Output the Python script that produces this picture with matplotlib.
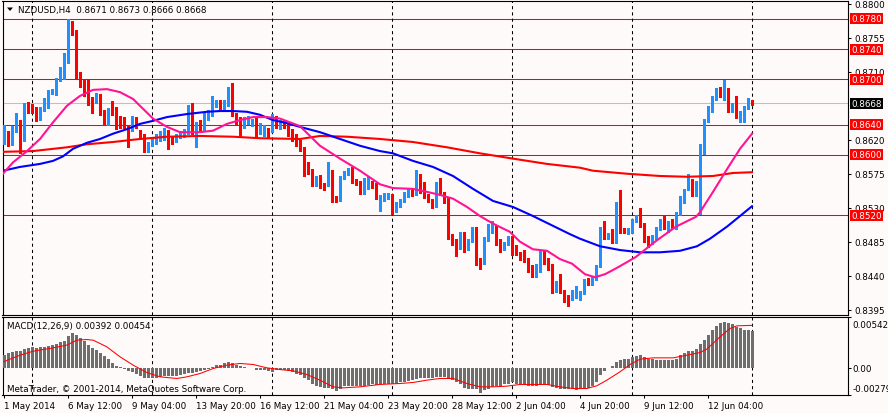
import matplotlib
matplotlib.use("Agg")
import matplotlib.pyplot as plt
import matplotlib.transforms as mtransforms
from matplotlib.patches import Polygon
import numpy as np

# ---------------- data ----------------
symbol = "NZDUSD"
timeframe = "H4"

opens = [
    .8620, .8629, .8615, .8633, .8643, .8620, .8668, .8664, .8661, .8648,
    .8660, .8664, .8682, .8681, .8699, .8702, .8724, .8768, .8763, .8708,
    .8697, .8684, .8674, .8673, .8673, .8658, .8643, .8660, .8660, .8647,
    .8646, .8638, .8634, .8648, .8631, .8626, .8609, .8616, .8618, .8621,
    .8624, .8630, .8623, .8619, .8625, .8626, .8630, .8661, .8632, .8643,
    .8634, .8648, .8654, .8666, .8670, .8663, .8667, .8676, .8654, .8648,
    .8637, .8644, .8641, .8648, .8634, .8632, .8634, .8632, .8650, .8636,
    .8642, .8639, .8630, .8625, .8617, .8608, .8585, .8579, .8561, .8571,
    .8561, .8561, .8577, .8544, .8541, .8570, .8575, .8581, .8566, .8564,
    .8550, .8557, .8564, .8561, .8542, .8541, .8545, .8546, .8526, .8533,
    .8540, .8546, .8553, .8549, .8573, .8557, .8546, .8540, .8533, .8562,
    .8549, .8542, .8493, .8487, .8478, .8496, .8476, .8486, .8502, .8461,
    .8458, .8488, .8499, .8505, .8486, .8476, .8483, .8490, .8479, .8469,
    .8465, .8462, .8452, .8447, .8447, .8472, .8462, .8454, .8421, .8432,
    .8419, .8413, .8410, .8412, .8411, .8418, .8435, .8430, .8436, .8453,
    .8502, .8493, .8494, .8489, .8530, .8501, .8498, .8498, .8513, .8520,
    .8508, .8487, .8484, .8491, .8502, .8514, .8500, .8513, .8504, .8522,
    .8538, .8555, .8566, .8548, .8559, .8610, .8645, .8659, .8675, .8684,
    .8675, .8687, .8659, .8667, .8654, .8654, .8663, .8671,
]
highs = [
    .8640, .8632, .8638, .8655, .8646, .8669, .8670, .8667, .8663, .8663,
    .8675, .8686, .8687, .8702, .8716, .8735, .8780, .8777, .8765, .8710,
    .8699, .8700, .8676, .8682, .8680, .8660, .8662, .8671, .8663, .8652,
    .8650, .8640, .8652, .8650, .8633, .8628, .8617, .8624, .8627, .8632,
    .8636, .8633, .8625, .8628, .8632, .8634, .8666, .8668, .8643, .8646,
    .8656, .8659, .8678, .8673, .8672, .8673, .8690, .8695, .8656, .8650,
    .8650, .8651, .8648, .8650, .8642, .8640, .8636, .8654, .8652, .8646,
    .8645, .8641, .8634, .8627, .8619, .8610, .8590, .8581, .8572, .8573,
    .8563, .8591, .8580, .8546, .8572, .8579, .8583, .8584, .8568, .8566,
    .8569, .8571, .8566, .8563, .8547, .8549, .8549, .8548, .8537, .8542,
    .8551, .8555, .8555, .8580, .8575, .8564, .8548, .8542, .8564, .8569,
    .8551, .8544, .8495, .8489, .8498, .8498, .8488, .8504, .8504, .8463,
    .8491, .8509, .8513, .8507, .8488, .8485, .8492, .8492, .8481, .8471,
    .8474, .8464, .8454, .8456, .8473, .8474, .8464, .8456, .8433, .8442,
    .8421, .8415, .8421, .8427, .8420, .8436, .8437, .8439, .8454, .8504,
    .8512, .8497, .8502, .8537, .8553, .8503, .8503, .8515, .8520, .8529,
    .8510, .8492, .8494, .8505, .8515, .8521, .8513, .8515, .8524, .8545,
    .8555, .8574, .8568, .8566, .8614, .8648, .8665, .8678, .8689, .8690,
    .8699, .8689, .8669, .8678, .8658, .8665, .8675, .8673,
]
lows = [
    .8615, .8612, .8613, .8630, .8602, .8618, .8655, .8655, .8645, .8646,
    .8658, .8662, .8680, .8679, .8698, .8700, .8722, .8758, .8700, .8690,
    .8678, .8666, .8655, .8668, .8653, .8640, .8640, .8653, .8634, .8636,
    .8635, .8611, .8632, .8636, .8621, .8604, .8604, .8612, .8614, .8618,
    .8620, .8608, .8615, .8617, .8622, .8623, .8628, .8628, .8610, .8630,
    .8632, .8646, .8652, .8663, .8659, .8661, .8665, .8652, .8640, .8623,
    .8635, .8641, .8638, .8623, .8628, .8625, .8623, .8630, .8635, .8634,
    .8635, .8625, .8618, .8612, .8605, .8572, .8575, .8559, .8559, .8556,
    .8554, .8559, .8537, .8537, .8539, .8568, .8573, .8563, .8560, .8548,
    .8548, .8555, .8556, .8541, .8526, .8539, .8541, .8522, .8524, .8531,
    .8538, .8544, .8546, .8547, .8550, .8543, .8537, .8529, .8531, .8547,
    .8536, .8488, .8481, .8466, .8476, .8472, .8474, .8484, .8454, .8449,
    .8456, .8486, .8497, .8481, .8472, .8474, .8481, .8467, .8467, .8461,
    .8458, .8445, .8438, .8438, .8445, .8455, .8448, .8417, .8419, .8417,
    .8405, .8400, .8408, .8410, .8408, .8416, .8428, .8428, .8434, .8451,
    .8489, .8489, .8483, .8483, .8497, .8496, .8495, .8496, .8511, .8504,
    .8484, .8478, .8482, .8489, .8500, .8502, .8498, .8503, .8502, .8520,
    .8536, .8553, .8546, .8546, .8522, .8601, .8643, .8657, .8673, .8676,
    .8673, .8657, .8657, .8649, .8643, .8644, .8661, .8666,
]
closes = [
    .8635, .8616, .8636, .8643, .8620, .8668, .8658, .8658, .8647, .8661,
    .8664, .8683, .8685, .8700, .8713, .8726, .8768, .8761, .8706, .8695,
    .8682, .8669, .8669, .8680, .8655, .8642, .8660, .8655, .8636, .8638,
    .8638, .8622, .8650, .8639, .8624, .8609, .8613, .8621, .8623, .8627,
    .8632, .8621, .8619, .8625, .8629, .8631, .8664, .8630, .8641, .8632,
    .8654, .8656, .8667, .8670, .8661, .8670, .8678, .8654, .8648, .8636,
    .8648, .8648, .8645, .8632, .8637, .8638, .8625, .8651, .8637, .8643,
    .8637, .8627, .8625, .8614, .8607, .8583, .8577, .8561, .8570, .8560,
    .8558, .8579, .8543, .8541, .8570, .8577, .8581, .8565, .8563, .8550,
    .8564, .8569, .8558, .8543, .8545, .8546, .8546, .8524, .8535, .8540,
    .8549, .8553, .8549, .8572, .8553, .8546, .8540, .8531, .8562, .8549,
    .8542, .8491, .8486, .8483, .8496, .8478, .8486, .8502, .8461, .8457,
    .8489, .8499, .8510, .8483, .8474, .8483, .8490, .8475, .8469, .8463,
    .8460, .8450, .8447, .8449, .8471, .8459, .8450, .8419, .8431, .8419,
    .8411, .8411, .8419, .8418, .8418, .8434, .8430, .8437, .8452, .8502,
    .8491, .8494, .8489, .8534, .8499, .8498, .8500, .8513, .8518, .8506,
    .8486, .8483, .8492, .8503, .8513, .8504, .8511, .8505, .8522, .8537,
    .8553, .8566, .8548, .8559, .8611, .8645, .8659, .8675, .8684, .8678,
    .8687, .8659, .8667, .8651, .8656, .8663, .8668, .8668,
]

# moving averages (bar position, price)
ma_fast_bar = [-0.25, 2.25, 5.75, 9, 12.25, 15.75, 19, 22.25, 25.75, 29, 32.25, 34.75,
               37.25, 40.75, 44, 49, 52.25, 55.75, 59, 62.25, 65.75, 69, 74, 79, 84,
               89, 94, 97.25, 102.25, 105.75, 109, 112.25, 115.75, 119, 122.25, 126.5,
               129, 132.25, 135.75, 139, 142, 145.25, 147.75, 150.25, 152.75, 155.75,
               158, 163, 168, 173, 174, 177.25, 180.75, 184, 187]
ma_fast_val = [.8575, .8590, .8605, .8621, .8643, .8665, .8678, .8686, .8687, .8683, .8674, .8661,
               .8648, .8637, .8630, .8630, .8632, .8641, .8646, .8650, .8650, .8648, .8638, .8612, .8595,
               .8579, .8561, .8556, .8555, .8551, .8547, .8542, .8531, .8519, .8509, .8498,
               .8485, .8475, .8473, .8462, .8456, .8442, .8438, .8442, .8449, .8458,
               .8465, .8486, .8505, .8518, .8524, .8551, .8581, .8608, .8628]

ma_mid_bar = [-0.25, 4, 9, 12.25, 14.75, 17.25, 20.75, 24, 27.25, 30.75, 34, 37.25, 40.75,
              45.75, 50.75, 54, 57.25, 60.75, 64, 67.25, 70.75, 74, 79, 84, 89, 94, 97.25,
              102.25, 107.25, 112.25, 117.25, 122.25, 127.25, 132.25, 137.25, 141.5, 144,
              149, 154, 159, 164, 169, 173.25, 176.5, 180.75, 184, 187]
ma_mid_val = [.8579, .8584, .8588, .8592, .8598, .8608, .8616, .8621, .8628, .8634, .8641, .8645, .8650,
              .8654, .8657, .8658, .8658, .8657, .8653, .8646, .8642, .8637, .8630, .8621, .8612, .8605, .8602,
              .8592, .8584, .8572, .8555, .8539, .8531, .8519, .8506, .8495, .8489,
              .8479, .8474, .8471, .8471, .8473, .8479, .8489, .8505, .8519, .8532]

ma_slow_bar = [-0.25, 7.25, 15.75, 20.75, 27.25, 34, 40.75, 49, 57.25, 64, 74, 79, 85.75,
               94, 102.25, 110.75, 119, 127.25, 135.75, 144, 147.25, 155.75, 164, 170.75,
               177.25, 182.25, 187]
ma_slow_val = [.8604, .8605, .8610, .8614, .8617, .8621, .8624, .8625, .8624, .8622, .8621, .8625, .8624,
               .8621, .8617, .8610, .8602, .8595, .8588, .8583, .8579, .8575, .8572, .8571,
               .8572, .8576, .8577]

levels = [0.8780, 0.8740, 0.8700, 0.8640, 0.8600, 0.8520]
price_ticks = [0.8800, 0.8755, 0.8710, 0.8620, 0.8575, 0.8530, 0.8485, 0.8440, 0.8395]

macd_main = [
    .00147, .00165, .00175, .00182, .00186, .00204, .00218, .00221, .00218, .00221,
    .00225, .00235, .00246, .00263, .00274, .00291, .00340, .00375, .00351, .00323,
    .00291, .00246, .00218, .00193, .00165, .00133, .00095, .00060, .00028, .00011,
    -.00004, -.00025, -.00042, -.00063, -.00084, -.00105, -.00105, -.00105, -.00098, -.00088,
    -.00081, -.00081, -.00081, -.00077, -.00070, -.00063, -.00049, -.00046, -.00035, -.00028,
    -.00021, -.00004, .00014, .00035, .00042, .00060, .00070, .00060, .00042, .00025,
    .00018, .00007, .00000, -.00011, -.00018, -.00021, -.00028, -.00035, -.00021, -.00018,
    -.00021, -.00025, -.00035, -.00053, -.00070, -.00095, -.00123, -.00158, -.00182, -.00193,
    -.00204, -.00204, -.00218, -.00239, -.00211, -.00189, -.00182, -.00186, -.00182, -.00182,
    -.00182, -.00175, -.00168, -.00172, -.00168, -.00165, -.00165, -.00168, -.00158, -.00147,
    -.00140, -.00133, -.00123, -.00112, -.00105, -.00102, -.00098, -.00098, -.00091, -.00088,
    -.00088, -.00105, -.00123, -.00140, -.00158, -.00204, -.00211, -.00211, -.00218, -.00253,
    -.00228, -.00211, -.00193, -.00186, -.00182, -.00168, -.00158, -.00147, -.00158, -.00168,
    -.00175, -.00182, -.00186, -.00182, -.00175, -.00168, -.00175, -.00193, -.00204, -.00211,
    -.00218, -.00221, -.00221, -.00225, -.00221, -.00211, -.00204, -.00182, -.00140, -.00070,
    -.00028, .00000, .00025, .00070, .00088, .00098, .00105, .00123, .00133, .00140,
    .00123, .00105, .00095, .00088, .00088, .00088, .00088, .00088, .00105, .00140,
    .00165, .00182, .00189, .00200, .00253, .00305, .00351, .00404, .00446, .00474,
    .00491, .00484, .00467, .00439, .00421, .00404, .00404, .00392,
]
signal_bar = [-0.2, 4, 7.3, 11.5, 15.7, 18.2, 20.7, 22.3, 25.7, 29, 32.3, 35.7, 39, 43.2,
              45.7, 49, 52.3, 55.7, 59, 62.3, 65.7, 69, 72.3, 75.7, 79, 82.3, 84.8, 89, 94,
              99, 102.3, 105.7, 109, 112.3, 115.7, 119, 122.3, 125.7, 129, 135.7, 139,
              142.3, 145.7, 148.2, 150.7, 154, 156.5, 159, 162.3, 167.3, 170.7, 174, 175.7,
              179, 181.5, 183.2, 187]
signal_val = [.0007, .0014, .00182, .00211, .00246, .00298, .00305, .00298, .00228, .00123, .00035,
              -.00042, -.00088, -.00105, -.00088, -.00053, 0.0, .00035, .00053, .00042, .00007,
              -.00011, -.00025, -.00063, -.00123, -.00193, -.00204, -.00193, -.00168, -.00158,
              -.00147, -.00123, -.00105, -.00105, -.00158, -.00193, -.00193, -.00186, -.00168,
              -.00168, -.00193, -.00211, -.00211, -.00182, -.00123, -.00035, .00042, .00098,
              .00112, .00112, .0014, .00168, .00204, .00333, .00421, .00449, .00454]
macd_ticks = [0.00542, 0.0, -0.00279]

time_labels = ["1 May 2014", "6 May 12:00", "9 May 04:00", "13 May 20:00", "16 May 12:00",
               "21 May 04:00", "23 May 20:00", "28 May 12:00", "2 Jun 04:00", "4 Jun 20:00",
               "9 Jun 12:00", "12 Jun 04:00"]
label_step = 16
week_start_bars = [7, 37, 67, 97, 127, 157, 187]

# ---------------- style ----------------
BG = "#FFFAFA"
BULL = "#1E90FF"
BEAR = "#FF0000"
FS = 6.3
plt.rcParams['font.family'] = ['DejaVu Sans']

W, HGT = 888, 414
fig = plt.figure(figsize=(W / 100, HGT / 100), dpi=100, facecolor=BG)


def axes_px(l, t, r, b):
    return fig.add_axes([l / W, 1 - b / HGT, (r - l) / W, (b - t) / HGT])


ax = axes_px(2.5, 1.5, 847.5, 316)
axm = axes_px(2.5, 318, 847.5, 396)
n = len(closes)
x = np.arange(n)
for a in (ax, axm):
    a.set_facecolor(BG)
    for s in a.spines.values():
        s.set_linewidth(0.8)
        s.set_color("black")
    a.set_xlim(-0.375, 210.875)
    for b in week_start_bars:
        a.axvline(b, color="black", lw=0.75, ls=(0, (3, 3)), zorder=2.5)

ax.set_ylim(0.838802, 0.880430)
axm.set_ylim(-0.00279, 0.00542)

# levels & bid line
for lv in levels:
    ax.axhline(lv, color="#FF0000", lw=0.75, zorder=2)
ax.axhline(closes[-1], color="#C0C0C0", lw=0.75, zorder=2)

# candles
o = np.array(opens); h = np.array(highs); l = np.array(lows); c = np.array(closes)
cols = np.where(c >= o, BULL, BEAR)
ax.vlines(x, l, h, colors=cols, lw=0.75, antialiased=False, zorder=3)
body_b = np.minimum(o, c)
body_h = np.maximum(np.abs(c - o), 0.00013)
ax.bar(x, body_h, bottom=body_b, width=0.75, color=cols, lw=0, antialiased=False, zorder=4)

# moving averages
ax.plot(ma_slow_bar, ma_slow_val, color="#FF0000", lw=1.5, zorder=5)
ax.plot(ma_mid_bar, ma_mid_val, color="#0000FF", lw=1.5, zorder=5)
ax.plot(ma_fast_bar, ma_fast_val, color="#FF1493", lw=1.5, zorder=5)

# price axis
ax.set_xticks([])
ax.yaxis.tick_right()
ax.set_yticks(price_ticks)
ax.set_yticklabels([f"{t:.4f}" for t in price_ticks])
ax.tick_params(axis="y", length=2.2, width=0.75, pad=3.0, labelsize=FS, colors="black")

off = mtransforms.ScaledTranslation(4.0 / 100, 0, fig.dpi_scale_trans)
tr = mtransforms.blended_transform_factory(ax.transAxes, ax.transData) + off
for lv in levels:
    ax.text(1.0, lv, f"{lv:.4f}", transform=tr, ha="left", va="center", fontsize=FS,
            color="white", clip_on=False, zorder=10,
            bbox=dict(boxstyle="square,pad=0.12", fc="#FF0000", ec="none"))
ax.text(1.0, closes[-1], f"{closes[-1]:.4f}", transform=tr, ha="left", va="center", fontsize=FS,
        color="white", clip_on=False, zorder=11,
        bbox=dict(boxstyle="square,pad=0.12", fc="black", ec="none"))

# MACD panel
axm.bar(x, macd_main, width=0.75, color="#6E6E6E", lw=0, antialiased=False, zorder=3)
axm.plot(signal_bar, signal_val, color="#FF0000", lw=0.75, zorder=4)
axm.yaxis.tick_right()
axm.set_yticks(macd_ticks)
axm.set_yticklabels(["", "", ""])
axm.tick_params(axis="y", length=2.2, width=0.75, pad=1.8)
trm = mtransforms.blended_transform_factory(axm.transAxes, axm.transData)
macd_lbls = [f"{macd_ticks[0]:.5f}", "0.00", f"{macd_ticks[2]:.5f}"]
shifts = [-7.5, 0, 6]
for v, s, dy in zip(macd_ticks, macd_lbls, shifts):
    axm.text(1.0, v, s, transform=trm + mtransforms.ScaledTranslation(5 / 100, dy / 100, fig.dpi_scale_trans),
             ha="left", va="center", fontsize=FS, color="black", clip_on=False)

tick_bars = [i * label_step for i in range(len(time_labels))]
axm.set_xticks(tick_bars)
axm.set_xticklabels(time_labels)
axm.tick_params(axis="x", length=2.5, width=0.75, pad=1.5, labelsize=FS, colors="black")
for t in axm.get_xticklabels():
    t.set_ha("left")

# texts
fig.text(17.5 / W, 1 - 10.5 / HGT,
         f"{symbol},{timeframe}  {opens[-1]:.4f} {highs[-1]:.4f} {lows[-1]:.4f} {closes[-1]:.4f}",
         fontsize=FS, ha="left", va="center", color="black", zorder=20)
tri = Polygon([[7 / W, 1 - 8.5 / HGT], [13 / W, 1 - 8.5 / HGT], [10 / W, 1 - 12 / HGT]],
              closed=True, transform=fig.transFigure, fc="black", ec="none", zorder=20)
fig.add_artist(tri)
fig.text(7.3 / W, 1 - 326.7 / HGT,
         f"MACD(12,26,9) {macd_main[-1]:.5f} {signal_val[-1]:.5f}",
         fontsize=FS, ha="left", va="center", color="black")
fig.text(7.3 / W, 1 - 389.3 / HGT, "MetaTrader, \u00a9 2001-2014, MetaQuotes Software Corp.",
         fontsize=FS, ha="left", va="center", color="black")

fig.savefig("out.png", dpi=100, facecolor=BG)
